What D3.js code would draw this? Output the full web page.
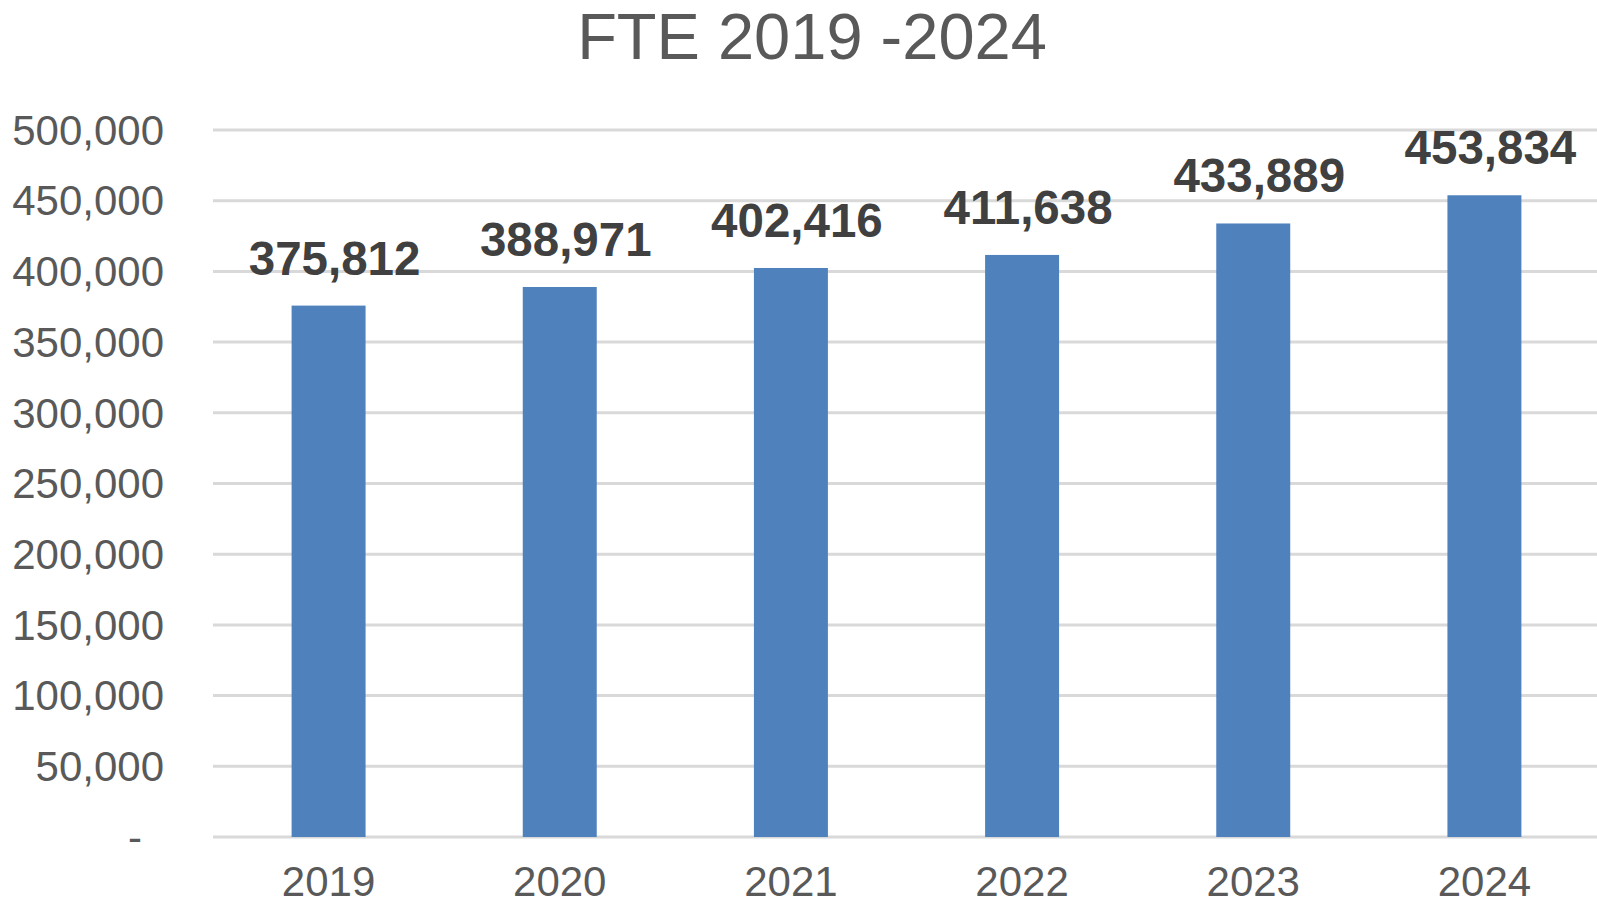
<!DOCTYPE html>
<html><head><meta charset="utf-8">
<script src="https://cdn.jsdelivr.net/npm/d3@7"></script>
<style>body{margin:0;background:#fff;}svg{display:block;font-family:"Liberation Sans",Arial,sans-serif;}</style>
</head><body>
<svg id="c" width="1597" height="905"></svg>
<script>
const categories = ["2019","2020","2021","2022","2023","2024"];
const values = [375812, 388971, 402416, 411638, 433889, 453834];
const yTicks = [0,50000,100000,150000,200000,250000,300000,350000,400000,450000,500000];
const title = "FTE 2019 -2024";

const svg = d3.select("#c");
const m = {left:213, right:1600, top:130, bottom:837};
const x = d3.scaleBand().domain(categories).range([m.left, m.right]).paddingInner(0.68).paddingOuter(0.34);
const y = d3.scaleLinear().domain([0,500000]).range([m.bottom, m.top]);
const fmt = d3.format(",");

// gridlines
svg.append("g").selectAll("line").data(yTicks).join("line")
  .attr("x1", m.left).attr("x2", 1597)
  .attr("y1", d=>y(d)).attr("y2", d=>y(d))
  .attr("stroke", "#d9d9d9").attr("stroke-width", 3);

// y axis
const yAxis = d3.axisLeft(y).tickValues(yTicks).tickSize(0).tickPadding(0)
  .tickFormat(d => d===0 ? "-" : fmt(d));
const gy = svg.append("g").attr("transform", "translate(164,0)").call(yAxis);
gy.select(".domain").remove();
gy.selectAll("text").attr("font-size", 42).attr("fill", "#595959")
  .attr("font-family", "Liberation Sans, Arial, sans-serif")
  .attr("dy", "0.34em")
  .attr("dx", d => d===0 ? -22 : 0);

// bars
svg.append("g").selectAll("rect").data(values).join("rect")
  .attr("x", (d,i)=>x(categories[i])).attr("width", x.bandwidth())
  .attr("y", d=>y(d)).attr("height", d=>y(0)-y(d))
  .attr("fill", "#4f81bd");

// data labels
svg.append("g").selectAll("text").data(values).join("text")
  .attr("x", (d,i)=>x(categories[i]) + x.bandwidth()/2 + 6)
  .attr("y", d=>y(d) - 31)
  .attr("text-anchor", "middle").attr("font-size", 47.5).attr("font-weight", "bold")
  .attr("fill", "#404040").text(d=>fmt(d));

// x axis
const xAxis = d3.axisBottom(x).tickSize(0).tickPadding(0);
const gx = svg.append("g").attr("transform", `translate(0,${m.bottom})`).call(xAxis);
gx.select(".domain").remove();
gx.selectAll("text").attr("font-size", 42).attr("fill", "#595959")
  .attr("font-family", "Liberation Sans, Arial, sans-serif")
  .attr("dy", null).attr("y", 59);

// title
svg.append("text").attr("x", 812).attr("y", 58.5).attr("text-anchor", "middle")
  .attr("font-size", 65).attr("fill", "#595959").text(title);
</script>
</body></html>
